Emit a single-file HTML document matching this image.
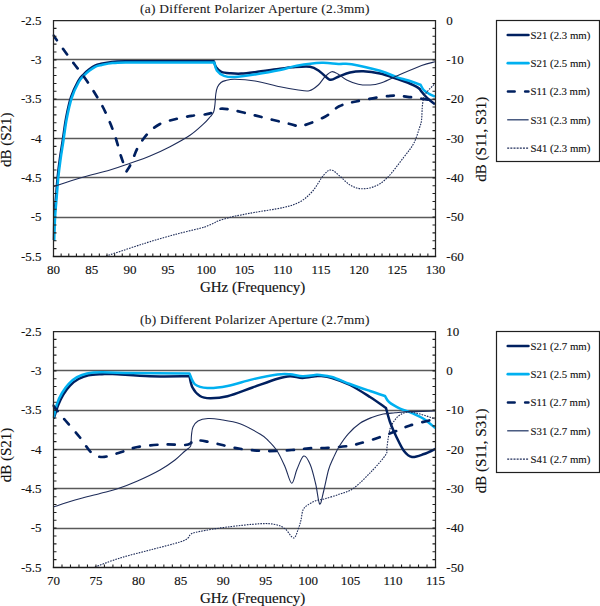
<!DOCTYPE html>
<html><head><meta charset="utf-8"><style>
html,body{margin:0;padding:0;background:#fff;width:600px;height:606px;overflow:hidden}
svg{display:block}
.ax{font-family:"Liberation Serif",serif;font-size:13px;fill:#111;stroke:#111;stroke-width:0.15px}
.tt{font-family:"Liberation Serif",serif;font-size:15px;fill:#111;stroke:#111;stroke-width:0.15px}
.ti{font-family:"Liberation Serif",serif;font-size:13.4px;fill:#1a1a1a;stroke:#1a1a1a;stroke-width:0.1px}
.lg{font-family:"Liberation Serif",serif;font-size:10.8px;fill:#111;stroke:#111;stroke-width:0.12px}
</style></head><body>
<svg width="600" height="606" viewBox="0 0 600 606">
<defs>
<clipPath id="cp1"><rect x="52.5" y="14.5" width="384.0" height="242.0"/></clipPath>
<clipPath id="cp2"><rect x="52.5" y="325.5" width="384.0" height="242.0"/></clipPath>
</defs>
<rect width="600" height="606" fill="#fff"/>
<line x1="53.50" y1="59.50" x2="435.50" y2="59.50" stroke="#595959" stroke-width="1.3"/>
<line x1="53.50" y1="99.50" x2="435.50" y2="99.50" stroke="#595959" stroke-width="1.3"/>
<line x1="53.50" y1="138.50" x2="435.50" y2="138.50" stroke="#595959" stroke-width="1.3"/>
<line x1="53.50" y1="177.50" x2="435.50" y2="177.50" stroke="#595959" stroke-width="1.3"/>
<line x1="53.50" y1="217.50" x2="435.50" y2="217.50" stroke="#595959" stroke-width="1.3"/>
<g clip-path="url(#cp1)">
<path d="M53.60,240.00 C53.75,236.00 54.07,223.50 54.50,216.00 C54.93,208.50 55.68,201.40 56.20,195.00 C56.72,188.60 56.97,183.77 57.60,177.60 C58.23,171.43 59.13,164.27 60.00,158.00 C60.87,151.73 61.78,146.67 62.80,140.00 C63.82,133.33 64.72,125.17 66.10,118.00 C67.48,110.83 69.08,103.17 71.10,97.00 C73.12,90.83 76.13,84.75 78.20,81.00 C80.27,77.25 81.70,76.40 83.50,74.50 C85.30,72.60 87.08,71.08 89.00,69.60 C90.92,68.12 93.00,66.57 95.00,65.60 C97.00,64.63 98.17,64.42 101.00,63.80 C103.83,63.18 108.00,62.32 112.00,61.90 C116.00,61.48 118.67,61.42 125.00,61.30 C131.33,61.18 135.20,61.22 150.00,61.20 C164.80,61.18 203.17,61.20 213.80,61.20 C214.18,62.20 214.83,65.43 216.10,67.20 C217.37,68.97 218.97,70.78 221.40,71.80 C223.83,72.82 227.40,73.00 230.70,73.30 C234.00,73.60 237.15,73.78 241.20,73.60 C245.25,73.42 248.53,73.00 255.00,72.20 C261.47,71.40 273.83,69.62 280.00,68.80 C286.17,67.98 287.00,67.65 292.00,67.30 C297.00,66.95 305.33,65.97 310.00,66.70 C314.67,67.43 316.67,69.53 320.00,71.70 C323.33,73.87 326.95,78.87 330.00,79.70 C333.05,80.53 334.97,77.90 338.30,76.70 C341.63,75.50 345.83,73.40 350.00,72.50 C354.17,71.60 358.30,71.13 363.30,71.30 C368.30,71.47 374.43,72.27 380.00,73.50 C385.57,74.73 392.12,77.20 396.70,78.70 C401.28,80.20 403.90,80.97 407.50,82.50 C411.10,84.03 415.95,86.37 418.30,87.90 C420.65,89.43 420.52,90.43 421.60,91.70 C422.68,92.97 423.53,94.15 424.80,95.50 C426.07,96.85 427.50,98.35 429.20,99.80 C430.90,101.25 434.03,103.47 435.00,104.20" stroke="#002060" stroke-width="2.5" stroke-linejoin="round" fill="none"/>
<path d="M54.20,241.00 C54.35,237.00 54.67,224.50 55.10,217.00 C55.53,209.50 56.28,202.40 56.80,196.00 C57.32,189.60 57.57,184.77 58.20,178.60 C58.83,172.43 59.73,165.27 60.60,159.00 C61.47,152.73 62.38,147.67 63.40,141.00 C64.42,134.33 65.32,126.17 66.70,119.00 C68.08,111.83 69.68,104.17 71.70,98.00 C73.72,91.83 76.73,85.75 78.80,82.00 C80.87,78.25 82.30,77.40 84.10,75.50 C85.90,73.60 87.68,72.08 89.60,70.60 C91.52,69.12 93.60,67.53 95.60,66.60 C97.60,65.67 98.77,65.58 101.60,65.00 C104.43,64.42 108.60,63.52 112.60,63.10 C116.60,62.68 119.27,62.62 125.60,62.50 C131.93,62.38 135.82,62.40 150.60,62.40 C165.38,62.40 203.68,62.48 214.30,62.50 C214.72,63.83 215.18,68.28 216.80,70.50 C218.42,72.72 221.03,74.72 224.00,75.80 C226.97,76.88 229.43,77.23 234.60,77.00 C239.77,76.77 247.43,75.57 255.00,74.40 C262.57,73.23 273.05,71.43 280.00,70.00 C286.95,68.57 289.75,67.00 296.70,65.80 C303.65,64.60 314.77,63.10 321.70,62.80 C328.63,62.50 333.30,63.77 338.30,64.00 C343.30,64.23 344.75,63.07 351.70,64.20 C358.65,65.33 372.50,68.65 380.00,70.80 C387.50,72.95 392.12,75.52 396.70,77.10 C401.28,78.68 403.53,79.03 407.50,80.30 C411.47,81.57 418.33,83.97 420.50,84.70 C421.04,85.60 422.30,88.57 423.75,90.10 C425.20,91.63 427.32,92.82 429.20,93.90 C431.07,94.98 434.03,96.15 435.00,96.60" stroke="#00b0f0" stroke-width="2.5" stroke-linejoin="round" fill="none"/>
<path d="M53.50,35.50 C55.17,37.83 60.08,44.79 63.50,49.50 C66.92,54.21 70.50,59.08 74.00,63.75 C77.50,68.42 81.12,72.75 84.50,77.50 C87.88,82.25 91.17,87.29 94.25,92.25 C97.33,97.21 100.33,102.08 103.00,107.25 C105.67,112.42 108.08,117.96 110.25,123.25 C112.42,128.54 114.21,133.50 116.00,139.00 C117.79,144.50 119.25,150.83 121.00,156.25 C122.75,161.67 125.58,168.96 126.50,171.50 C127.29,170.12 129.33,167.29 131.25,163.25 C133.17,159.21 135.17,152.29 138.00,147.25 C140.83,142.21 144.58,136.88 148.25,133.00 C151.92,129.12 155.54,126.30 160.00,124.00 C164.46,121.70 169.72,120.57 175.00,119.20 C180.28,117.83 186.42,116.63 191.70,115.80 C196.98,114.97 203.10,114.80 206.70,114.20 C210.30,113.60 211.07,113.10 213.30,112.20 C215.53,111.30 217.43,109.27 220.10,108.80 C222.77,108.33 225.78,108.87 229.30,109.40 C232.82,109.93 236.92,111.00 241.20,112.00 C245.48,113.00 246.87,113.40 255.00,115.40 C263.13,117.40 282.17,122.27 290.00,124.00 C297.83,125.73 296.17,127.02 302.00,125.80 C307.83,124.58 318.80,119.95 325.00,116.70 C331.20,113.45 334.03,108.83 339.20,106.30 C344.37,103.77 347.53,103.25 356.00,101.50 C364.47,99.75 381.42,96.58 390.00,95.80 C398.58,95.02 402.23,96.31 407.50,96.80 C412.77,97.29 417.98,98.25 421.60,98.75 C425.22,99.25 426.97,99.51 429.20,99.80 C431.43,100.09 434.03,100.38 435.00,100.50" stroke="#002060" stroke-width="2.7" stroke-dasharray="7 10.45" stroke-dashoffset="1.1" stroke-linecap="round" fill="none"/>
<path d="M53.30,186.70 C57.75,185.25 70.55,180.78 80.00,178.00 C89.45,175.22 101.67,172.45 110.00,170.00 C118.33,167.55 123.33,165.63 130.00,163.30 C136.67,160.97 143.33,158.77 150.00,156.00 C156.67,153.23 163.33,150.15 170.00,146.70 C176.67,143.25 184.45,139.05 190.00,135.30 C195.55,131.55 199.97,127.25 203.30,124.20 C206.63,121.15 208.28,119.03 210.00,117.00 C211.72,114.97 212.77,114.17 213.60,112.00 C214.43,109.83 214.63,107.00 215.00,104.00 C215.37,101.00 215.38,96.83 215.80,94.00 C216.22,91.17 216.63,88.92 217.50,87.00 C218.37,85.08 219.68,83.57 221.00,82.50 C222.32,81.43 223.13,81.13 225.40,80.60 C227.67,80.07 229.67,79.23 234.60,79.30 C239.53,79.37 247.43,79.77 255.00,81.00 C262.57,82.23 273.05,85.25 280.00,86.70 C286.95,88.15 291.83,89.02 296.70,89.70 C301.57,90.38 305.60,91.58 309.20,90.80 C312.80,90.02 315.67,87.35 318.30,85.00 C320.93,82.65 322.77,78.92 325.00,76.70 C327.23,74.48 329.48,72.12 331.70,71.70 C333.92,71.28 335.80,72.82 338.30,74.20 C340.80,75.58 343.37,78.33 346.70,80.00 C350.03,81.67 354.42,83.37 358.30,84.20 C362.18,85.03 366.38,85.15 370.00,85.00 C373.62,84.85 375.55,84.80 380.00,83.30 C384.45,81.80 389.77,78.97 396.70,76.00 C403.63,73.03 415.22,67.87 421.60,65.50 C427.98,63.13 432.77,62.42 435.00,61.80" stroke="#1f2d5a" stroke-width="1.1" fill="none"/>
<path d="M96.00,260.00 C97.78,259.30 102.70,257.22 106.70,255.80 C110.70,254.38 115.28,253.05 120.00,251.50 C124.72,249.95 130.00,248.13 135.00,246.50 C140.00,244.87 143.33,243.70 150.00,241.70 C156.67,239.70 166.67,236.73 175.00,234.50 C183.33,232.27 194.83,229.63 200.00,228.30 C205.17,226.97 203.83,227.30 206.00,226.50 C208.17,225.70 211.00,224.42 213.00,223.50 C215.00,222.58 215.83,221.83 218.00,221.00 C220.17,220.17 223.50,219.25 226.00,218.50 C228.50,217.75 230.50,217.08 233.00,216.50 C235.50,215.92 237.50,215.67 241.00,215.00 C244.50,214.33 246.95,213.75 254.00,212.50 C261.05,211.25 275.63,209.28 283.30,207.50 C290.97,205.72 295.13,204.51 300.00,201.80 C304.87,199.09 308.54,195.72 312.50,191.25 C316.46,186.78 320.62,178.54 323.75,175.00 C326.88,171.46 328.54,169.79 331.25,170.00 C333.96,170.21 336.88,173.75 340.00,176.25 C343.12,178.75 346.46,182.92 350.00,185.00 C353.54,187.08 357.08,188.54 361.25,188.75 C365.42,188.96 370.62,188.12 375.00,186.25 C379.38,184.38 382.70,182.34 387.50,177.50 C392.30,172.66 399.43,162.88 403.80,157.20 C408.17,151.52 411.07,148.35 413.70,143.40 C416.33,138.45 418.28,131.47 419.60,127.50 C420.92,123.53 421.10,123.55 421.60,119.60 C422.10,115.65 421.95,108.08 422.60,103.80 C423.25,99.52 423.43,97.28 425.50,93.90 C427.57,90.52 433.42,85.23 435.00,83.50" stroke="#1f2d5a" stroke-width="1.1" stroke-dasharray="1.6 1.1" fill="none"/>
</g>
<path d="M53.50,256.50 V20.50 H435.50 V256.50" stroke="#262626" stroke-width="1.25" fill="none"/>
<line x1="52.80" y1="256.50" x2="436.20" y2="256.50" stroke="#1a1a1a" stroke-width="1.6"/>
<path d="M53.50,28.37h3 M435.50,28.37h-3 M53.50,36.23h3 M435.50,36.23h-3 M53.50,44.10h3 M435.50,44.10h-3 M53.50,51.97h3 M435.50,51.97h-3 M53.50,59.83h3 M435.50,59.83h-3 M53.50,67.70h3 M435.50,67.70h-3 M53.50,75.57h3 M435.50,75.57h-3 M53.50,83.43h3 M435.50,83.43h-3 M53.50,91.30h3 M435.50,91.30h-3 M53.50,99.17h3 M435.50,99.17h-3 M53.50,107.03h3 M435.50,107.03h-3 M53.50,114.90h3 M435.50,114.90h-3 M53.50,122.77h3 M435.50,122.77h-3 M53.50,130.63h3 M435.50,130.63h-3 M53.50,138.50h3 M435.50,138.50h-3 M53.50,146.37h3 M435.50,146.37h-3 M53.50,154.23h3 M435.50,154.23h-3 M53.50,162.10h3 M435.50,162.10h-3 M53.50,169.97h3 M435.50,169.97h-3 M53.50,177.83h3 M435.50,177.83h-3 M53.50,185.70h3 M435.50,185.70h-3 M53.50,193.57h3 M435.50,193.57h-3 M53.50,201.43h3 M435.50,201.43h-3 M53.50,209.30h3 M435.50,209.30h-3 M53.50,217.17h3 M435.50,217.17h-3 M53.50,225.03h3 M435.50,225.03h-3 M53.50,232.90h3 M435.50,232.90h-3 M53.50,240.77h3 M435.50,240.77h-3 M53.50,248.63h3 M435.50,248.63h-3 M61.14,256.50v-3 M68.78,256.50v-3 M76.42,256.50v-3 M84.06,256.50v-3 M91.70,256.50v-3 M99.34,256.50v-3 M106.98,256.50v-3 M114.62,256.50v-3 M122.26,256.50v-3 M129.90,256.50v-3 M137.54,256.50v-3 M145.18,256.50v-3 M152.82,256.50v-3 M160.46,256.50v-3 M168.10,256.50v-3 M175.74,256.50v-3 M183.38,256.50v-3 M191.02,256.50v-3 M198.66,256.50v-3 M206.30,256.50v-3 M213.94,256.50v-3 M221.58,256.50v-3 M229.22,256.50v-3 M236.86,256.50v-3 M244.50,256.50v-3 M252.14,256.50v-3 M259.78,256.50v-3 M267.42,256.50v-3 M275.06,256.50v-3 M282.70,256.50v-3 M290.34,256.50v-3 M297.98,256.50v-3 M305.62,256.50v-3 M313.26,256.50v-3 M320.90,256.50v-3 M328.54,256.50v-3 M336.18,256.50v-3 M343.82,256.50v-3 M351.46,256.50v-3 M359.10,256.50v-3 M366.74,256.50v-3 M374.38,256.50v-3 M382.02,256.50v-3 M389.66,256.50v-3 M397.30,256.50v-3 M404.94,256.50v-3 M412.58,256.50v-3 M420.22,256.50v-3 M427.86,256.50v-3" stroke="#202020" stroke-width="1.1" fill="none"/>
<text x="41.6" y="24.80" class="ax" text-anchor="end">-2.5</text>
<text x="41.6" y="64.13" class="ax" text-anchor="end">-3</text>
<text x="41.6" y="103.47" class="ax" text-anchor="end">-3.5</text>
<text x="41.6" y="142.80" class="ax" text-anchor="end">-4</text>
<text x="41.6" y="182.13" class="ax" text-anchor="end">-4.5</text>
<text x="41.6" y="221.47" class="ax" text-anchor="end">-5</text>
<text x="41.6" y="260.80" class="ax" text-anchor="end">-5.5</text>
<text x="446.3" y="24.80" class="ax">0</text>
<text x="446.3" y="64.13" class="ax">-10</text>
<text x="446.3" y="103.47" class="ax">-20</text>
<text x="446.3" y="142.80" class="ax">-30</text>
<text x="446.3" y="182.13" class="ax">-40</text>
<text x="446.3" y="221.47" class="ax">-50</text>
<text x="446.3" y="260.80" class="ax">-60</text>
<text x="53.50" y="274.10" class="ax" text-anchor="middle">80</text>
<text x="91.70" y="274.10" class="ax" text-anchor="middle">85</text>
<text x="129.90" y="274.10" class="ax" text-anchor="middle">90</text>
<text x="168.10" y="274.10" class="ax" text-anchor="middle">95</text>
<text x="206.30" y="274.10" class="ax" text-anchor="middle">100</text>
<text x="244.50" y="274.10" class="ax" text-anchor="middle">105</text>
<text x="282.70" y="274.10" class="ax" text-anchor="middle">110</text>
<text x="320.90" y="274.10" class="ax" text-anchor="middle">115</text>
<text x="359.10" y="274.10" class="ax" text-anchor="middle">120</text>
<text x="397.30" y="274.10" class="ax" text-anchor="middle">125</text>
<text x="435.50" y="274.10" class="ax" text-anchor="middle">130</text>
<text x="252.6" y="291.90" class="tt" text-anchor="middle">GHz (Frequency)</text>
<text transform="translate(10.8,139.80) rotate(-90)" class="tt" text-anchor="middle">dB (S21)</text>
<text transform="translate(485.8,139.20) rotate(-90)" class="tt" text-anchor="middle">dB (S11, S31)</text>
<text x="140" y="12.90" class="ti" textLength="229.5" lengthAdjust="spacing">(a) Different Polarizer Aperture (2.3mm)</text>
<rect x="496.5" y="20.50" width="103" height="141" fill="none" stroke="#202020" stroke-width="1.2"/>
<line x1="507.8" y1="35.00" x2="528.4" y2="35.00" stroke="#002060" stroke-width="2.7" stroke-linecap="round"/>
<text x="530.6" y="38.80" class="lg">S21 (2.3 mm)</text>
<line x1="507.8" y1="63.20" x2="528.4" y2="63.20" stroke="#00b0f0" stroke-width="2.7" stroke-linecap="round"/>
<text x="530.6" y="67.00" class="lg">S21 (2.5 mm)</text>
<path d="M508,91.50 h6.6 M525.2,91.50 h3.2" stroke="#002060" stroke-width="2.7" stroke-linecap="round" fill="none"/>
<text x="530.6" y="95.30" class="lg">S11 (2.3 mm)</text>
<line x1="507.2" y1="119.80" x2="528.6" y2="119.80" stroke="#2b3f6c" stroke-width="1.3"/>
<text x="530.6" y="123.60" class="lg">S31 (2.3 mm)</text>
<line x1="507.2" y1="148.20" x2="528.6" y2="148.20" stroke="#1f2d5a" stroke-width="1.3" stroke-dasharray="2 1.15"/>
<text x="530.6" y="152.00" class="lg">S41 (2.3 mm)</text>
<line x1="53.50" y1="370.50" x2="435.50" y2="370.50" stroke="#595959" stroke-width="1.3"/>
<line x1="53.50" y1="410.50" x2="435.50" y2="410.50" stroke="#595959" stroke-width="1.3"/>
<line x1="53.50" y1="449.50" x2="435.50" y2="449.50" stroke="#595959" stroke-width="1.3"/>
<line x1="53.50" y1="488.50" x2="435.50" y2="488.50" stroke="#595959" stroke-width="1.3"/>
<line x1="53.50" y1="528.50" x2="435.50" y2="528.50" stroke="#595959" stroke-width="1.3"/>
<g clip-path="url(#cp2)">
<path d="M53.80,418.50 C54.53,416.25 56.62,409.00 58.20,405.00 C59.78,401.00 61.33,397.75 63.30,394.50 C65.27,391.25 67.47,388.08 70.00,385.50 C72.53,382.92 75.42,380.70 78.50,379.00 C81.58,377.30 84.58,376.10 88.50,375.30 C92.42,374.50 98.00,374.42 102.00,374.20 C106.00,373.98 104.50,373.66 112.50,374.00 C120.50,374.34 137.17,375.88 150.00,376.25 C162.83,376.62 182.92,376.25 189.50,376.25 C190.00,378.12 190.75,384.21 192.50,387.50 C194.25,390.79 197.08,394.21 200.00,396.00 C202.92,397.79 205.42,398.21 210.00,398.25 C214.58,398.29 220.42,398.04 227.50,396.25 C234.58,394.46 244.17,390.42 252.50,387.50 C260.83,384.58 271.25,380.62 277.50,378.75 C283.75,376.88 285.83,376.38 290.00,376.25 C294.17,376.12 298.33,378.00 302.50,378.00 C306.67,378.00 312.08,376.58 315.00,376.25 C317.92,375.92 317.17,375.71 320.00,376.00 C322.83,376.29 327.00,376.50 332.00,378.00 C337.00,379.50 343.67,381.83 350.00,385.00 C356.33,388.17 364.00,393.17 370.00,397.00 C376.00,400.83 383.33,406.17 386.00,408.00 C386.67,410.33 388.33,417.33 390.00,422.00 C391.67,426.67 393.67,431.17 396.00,436.00 C398.33,440.83 401.33,447.50 404.00,451.00 C406.67,454.50 408.67,456.50 412.00,457.00 C415.33,457.50 420.13,455.33 424.00,454.00 C427.87,452.67 433.33,449.83 435.20,449.00" stroke="#002060" stroke-width="2.5" stroke-linejoin="round" fill="none"/>
<path d="M53.70,417.50 C54.25,415.22 55.62,407.88 57.00,403.80 C58.38,399.72 60.05,396.33 62.00,393.00 C63.95,389.67 66.20,386.43 68.70,383.80 C71.20,381.17 73.95,378.93 77.00,377.20 C80.05,375.47 82.83,374.23 87.00,373.40 C91.17,372.57 95.67,372.27 102.00,372.20 C108.33,372.13 110.42,372.78 125.00,373.00 C139.58,373.22 178.75,373.42 189.50,373.50 C190.42,375.31 192.00,381.93 195.00,384.35 C198.00,386.77 202.08,387.73 207.50,388.00 C212.92,388.27 220.00,387.44 227.50,386.00 C235.00,384.56 244.17,381.27 252.50,379.35 C260.83,377.43 271.25,375.35 277.50,374.50 C283.75,373.65 285.83,373.96 290.00,374.25 C294.17,374.54 298.33,376.12 302.50,376.25 C306.67,376.38 312.08,375.21 315.00,375.00 C317.92,374.79 317.17,374.67 320.00,375.00 C322.83,375.33 327.00,375.50 332.00,377.00 C337.00,378.50 343.67,381.67 350.00,384.00 C356.33,386.33 364.17,389.00 370.00,391.00 C375.83,393.00 382.50,395.17 385.00,396.00 C385.67,397.00 386.50,399.90 389.00,402.00 C391.50,404.10 396.17,406.77 400.00,408.60 C403.83,410.43 408.00,411.27 412.00,413.00 C416.00,414.73 420.13,416.50 424.00,419.00 C427.87,421.50 433.33,426.50 435.20,428.00" stroke="#00b0f0" stroke-width="2.5" stroke-linejoin="round" fill="none"/>
<path d="M53.30,405.60 C54.07,406.58 55.95,409.10 57.90,411.50 C59.85,413.90 61.32,415.67 65.00,420.00 C68.68,424.33 75.62,432.08 80.00,437.50 C84.38,442.92 87.50,449.25 91.25,452.50 C95.00,455.75 97.71,457.00 102.50,457.00 C107.29,457.00 114.17,454.17 120.00,452.50 C125.83,450.83 130.42,448.33 137.50,447.00 C144.58,445.67 154.58,444.83 162.50,444.50 C170.42,444.17 180.25,445.25 185.00,445.00 C189.75,444.75 189.92,443.58 191.00,443.00 C192.08,442.42 190.00,441.92 191.50,441.50 C193.00,441.08 197.25,440.45 200.00,440.50 C202.75,440.55 205.00,441.22 208.00,441.80 C211.00,442.38 212.67,442.84 218.00,444.00 C223.33,445.16 232.17,447.58 240.00,448.75 C247.83,449.92 256.38,450.79 265.00,451.00 C273.62,451.21 284.37,450.45 291.70,450.00 C299.03,449.55 303.00,448.67 309.00,448.30 C315.00,447.93 321.15,448.18 327.70,447.80 C334.25,447.42 342.92,446.75 348.30,446.00 C353.68,445.25 355.13,444.63 360.00,443.30 C364.87,441.97 371.67,439.97 377.50,438.00 C383.33,436.03 389.58,433.58 395.00,431.50 C400.42,429.42 403.30,427.58 410.00,425.50 C416.70,423.42 431.00,420.08 435.20,419.00" stroke="#002060" stroke-width="2.7" stroke-dasharray="7 10.45" stroke-dashoffset="0" stroke-linecap="round" fill="none"/>
<path d="M53.30,507.00 C56.92,505.83 67.22,502.25 75.00,500.00 C82.78,497.75 92.92,495.38 100.00,493.50 C107.08,491.62 111.25,490.83 117.50,488.75 C123.75,486.67 130.42,484.12 137.50,481.00 C144.58,477.88 153.75,473.50 160.00,470.00 C166.25,466.50 170.83,463.17 175.00,460.00 C179.17,456.83 182.50,453.17 185.00,451.00 C187.50,448.83 189.00,448.17 190.00,447.00 C191.00,445.83 190.75,446.00 191.00,444.00 C191.25,442.00 191.17,437.83 191.50,435.00 C191.83,432.17 191.92,429.33 193.00,427.00 C194.08,424.67 195.50,422.42 198.00,421.00 C200.50,419.58 204.33,418.75 208.00,418.50 C211.67,418.25 214.67,418.62 220.00,419.50 C225.33,420.38 233.33,421.33 240.00,423.75 C246.67,426.17 255.38,431.29 260.00,434.00 C264.62,436.71 264.87,437.22 267.70,440.00 C270.53,442.78 274.12,446.25 277.00,450.70 C279.88,455.15 282.55,461.27 285.00,466.70 C287.45,472.13 289.70,482.87 291.70,483.30 C293.70,483.73 295.00,473.85 297.00,469.30 C299.00,464.75 301.48,456.77 303.70,456.00 C305.92,455.23 308.30,460.03 310.30,464.70 C312.30,469.37 314.13,477.45 315.70,484.00 C317.27,490.55 318.37,502.83 319.70,504.00 C321.03,505.17 322.23,496.67 323.70,491.00 C325.17,485.33 326.92,475.45 328.50,470.00 C330.08,464.55 331.45,462.18 333.20,458.30 C334.95,454.42 336.48,450.78 339.00,446.70 C341.52,442.62 344.80,437.70 348.30,433.80 C351.80,429.90 356.10,426.02 360.00,423.30 C363.90,420.58 367.82,419.05 371.70,417.50 C375.58,415.95 379.42,414.78 383.30,414.00 C387.18,413.22 390.55,413.20 395.00,412.80 C399.45,412.40 403.30,411.90 410.00,411.60 C416.70,411.30 431.00,411.10 435.20,411.00" stroke="#1f2d5a" stroke-width="1.1" fill="none"/>
<path d="M85.00,571.00 C86.50,570.40 88.17,569.57 94.00,567.40 C99.83,565.23 110.67,560.90 120.00,558.00 C129.33,555.10 140.00,552.67 150.00,550.00 C160.00,547.33 173.67,544.00 180.00,542.00 C186.33,540.00 186.17,539.33 188.00,538.00 C189.83,536.67 189.00,535.10 191.00,534.00 C193.00,532.90 193.92,532.57 200.00,531.40 C206.08,530.23 217.50,528.27 227.50,527.00 C237.50,525.73 252.08,524.17 260.00,523.75 C267.92,523.33 270.83,523.67 275.00,524.50 C279.17,525.33 281.88,526.50 285.00,528.75 C288.12,531.00 291.46,538.21 293.75,538.00 C296.04,537.79 297.54,530.50 298.75,527.50 C299.96,524.50 300.29,522.92 301.00,520.00 C301.71,517.08 301.88,512.50 303.00,510.00 C304.12,507.50 305.58,506.55 307.70,505.00 C309.82,503.45 312.82,501.75 315.70,500.70 C318.58,499.65 320.95,499.82 325.00,498.70 C329.05,497.58 335.17,495.78 340.00,494.00 C344.83,492.22 348.53,492.00 354.00,488.00 C359.47,484.00 367.52,475.53 372.80,470.00 C378.08,464.47 383.37,458.30 385.70,454.80 C388.03,451.30 386.42,451.52 386.80,449.00 C387.18,446.48 387.42,443.20 388.00,439.70 C388.58,436.20 389.13,431.32 390.30,428.00 C391.47,424.68 393.38,421.97 395.00,419.80 C396.62,417.63 397.83,416.30 400.00,415.00 C402.17,413.70 404.67,412.17 408.00,412.00 C411.33,411.83 415.47,412.83 420.00,414.00 C424.53,415.17 432.67,418.17 435.20,419.00" stroke="#1f2d5a" stroke-width="1.1" stroke-dasharray="1.6 1.1" fill="none"/>
</g>
<path d="M53.50,567.50 V331.50 H435.50 V567.50" stroke="#262626" stroke-width="1.25" fill="none"/>
<line x1="52.80" y1="567.50" x2="436.20" y2="567.50" stroke="#1a1a1a" stroke-width="1.6"/>
<path d="M53.50,339.37h3 M435.50,339.37h-3 M53.50,347.23h3 M435.50,347.23h-3 M53.50,355.10h3 M435.50,355.10h-3 M53.50,362.97h3 M435.50,362.97h-3 M53.50,370.83h3 M435.50,370.83h-3 M53.50,378.70h3 M435.50,378.70h-3 M53.50,386.57h3 M435.50,386.57h-3 M53.50,394.43h3 M435.50,394.43h-3 M53.50,402.30h3 M435.50,402.30h-3 M53.50,410.17h3 M435.50,410.17h-3 M53.50,418.03h3 M435.50,418.03h-3 M53.50,425.90h3 M435.50,425.90h-3 M53.50,433.77h3 M435.50,433.77h-3 M53.50,441.63h3 M435.50,441.63h-3 M53.50,449.50h3 M435.50,449.50h-3 M53.50,457.37h3 M435.50,457.37h-3 M53.50,465.23h3 M435.50,465.23h-3 M53.50,473.10h3 M435.50,473.10h-3 M53.50,480.97h3 M435.50,480.97h-3 M53.50,488.83h3 M435.50,488.83h-3 M53.50,496.70h3 M435.50,496.70h-3 M53.50,504.57h3 M435.50,504.57h-3 M53.50,512.43h3 M435.50,512.43h-3 M53.50,520.30h3 M435.50,520.30h-3 M53.50,528.17h3 M435.50,528.17h-3 M53.50,536.03h3 M435.50,536.03h-3 M53.50,543.90h3 M435.50,543.90h-3 M53.50,551.77h3 M435.50,551.77h-3 M53.50,559.63h3 M435.50,559.63h-3 M61.99,567.50v-3 M70.48,567.50v-3 M78.97,567.50v-3 M87.46,567.50v-3 M95.94,567.50v-3 M104.43,567.50v-3 M112.92,567.50v-3 M121.41,567.50v-3 M129.90,567.50v-3 M138.39,567.50v-3 M146.88,567.50v-3 M155.37,567.50v-3 M163.86,567.50v-3 M172.34,567.50v-3 M180.83,567.50v-3 M189.32,567.50v-3 M197.81,567.50v-3 M206.30,567.50v-3 M214.79,567.50v-3 M223.28,567.50v-3 M231.77,567.50v-3 M240.26,567.50v-3 M248.74,567.50v-3 M257.23,567.50v-3 M265.72,567.50v-3 M274.21,567.50v-3 M282.70,567.50v-3 M291.19,567.50v-3 M299.68,567.50v-3 M308.17,567.50v-3 M316.66,567.50v-3 M325.14,567.50v-3 M333.63,567.50v-3 M342.12,567.50v-3 M350.61,567.50v-3 M359.10,567.50v-3 M367.59,567.50v-3 M376.08,567.50v-3 M384.57,567.50v-3 M393.06,567.50v-3 M401.54,567.50v-3 M410.03,567.50v-3 M418.52,567.50v-3 M427.01,567.50v-3" stroke="#202020" stroke-width="1.1" fill="none"/>
<text x="41.6" y="335.80" class="ax" text-anchor="end">-2.5</text>
<text x="41.6" y="375.13" class="ax" text-anchor="end">-3</text>
<text x="41.6" y="414.47" class="ax" text-anchor="end">-3.5</text>
<text x="41.6" y="453.80" class="ax" text-anchor="end">-4</text>
<text x="41.6" y="493.13" class="ax" text-anchor="end">-4.5</text>
<text x="41.6" y="532.47" class="ax" text-anchor="end">-5</text>
<text x="41.6" y="571.80" class="ax" text-anchor="end">-5.5</text>
<text x="446.3" y="335.80" class="ax">10</text>
<text x="446.3" y="375.13" class="ax">0</text>
<text x="446.3" y="414.47" class="ax">-10</text>
<text x="446.3" y="453.80" class="ax">-20</text>
<text x="446.3" y="493.13" class="ax">-30</text>
<text x="446.3" y="532.47" class="ax">-40</text>
<text x="446.3" y="571.80" class="ax">-50</text>
<text x="53.50" y="585.10" class="ax" text-anchor="middle">70</text>
<text x="95.94" y="585.10" class="ax" text-anchor="middle">75</text>
<text x="138.39" y="585.10" class="ax" text-anchor="middle">80</text>
<text x="180.83" y="585.10" class="ax" text-anchor="middle">85</text>
<text x="223.28" y="585.10" class="ax" text-anchor="middle">90</text>
<text x="265.72" y="585.10" class="ax" text-anchor="middle">95</text>
<text x="308.17" y="585.10" class="ax" text-anchor="middle">100</text>
<text x="350.61" y="585.10" class="ax" text-anchor="middle">105</text>
<text x="393.06" y="585.10" class="ax" text-anchor="middle">110</text>
<text x="435.50" y="585.10" class="ax" text-anchor="middle">115</text>
<text x="252.6" y="602.90" class="tt" text-anchor="middle">GHz (Frequency)</text>
<text transform="translate(10.8,455.00) rotate(-90)" class="tt" text-anchor="middle">dB (S21)</text>
<text transform="translate(485.8,450.90) rotate(-90)" class="tt" text-anchor="middle">dB (S11, S31)</text>
<text x="140" y="323.90" class="ti" textLength="229.5" lengthAdjust="spacing">(b) Different Polarizer Aperture (2.7mm)</text>
<rect x="496.5" y="331.50" width="103" height="141" fill="none" stroke="#202020" stroke-width="1.2"/>
<line x1="507.8" y1="346.00" x2="528.4" y2="346.00" stroke="#002060" stroke-width="2.7" stroke-linecap="round"/>
<text x="530.6" y="349.80" class="lg">S21 (2.7 mm)</text>
<line x1="507.8" y1="374.20" x2="528.4" y2="374.20" stroke="#00b0f0" stroke-width="2.7" stroke-linecap="round"/>
<text x="530.6" y="378.00" class="lg">S21 (2.5 mm)</text>
<path d="M508,402.50 h6.6 M525.2,402.50 h3.2" stroke="#002060" stroke-width="2.7" stroke-linecap="round" fill="none"/>
<text x="530.6" y="406.30" class="lg">S11 (2.7 mm)</text>
<line x1="507.2" y1="430.80" x2="528.6" y2="430.80" stroke="#2b3f6c" stroke-width="1.3"/>
<text x="530.6" y="434.60" class="lg">S31 (2.7 mm)</text>
<line x1="507.2" y1="459.20" x2="528.6" y2="459.20" stroke="#1f2d5a" stroke-width="1.3" stroke-dasharray="2 1.15"/>
<text x="530.6" y="463.00" class="lg">S41 (2.7 mm)</text>
</svg>
</body></html>
